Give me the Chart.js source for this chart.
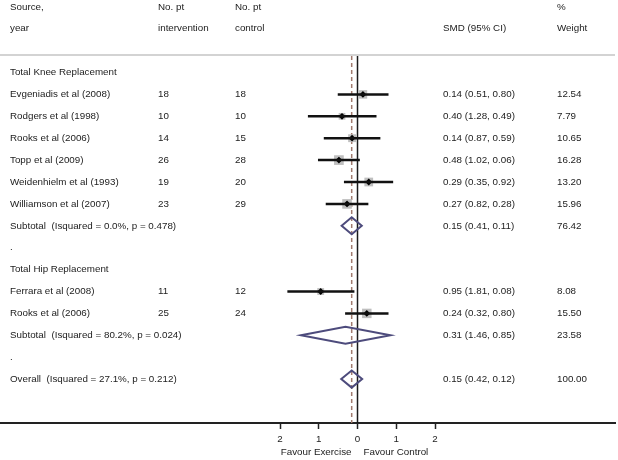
<!DOCTYPE html>
<html>
<head>
<meta charset="utf-8">
<script src="https://cdn.jsdelivr.net/npm/chart.js@4"></script>
<style>
  html, body { margin: 0; padding: 0; background: #fff; overflow: hidden; }
  #wrap { width: 618px; height: 460px; }
</style>
</head>
<body>
<div id="wrap"><canvas id="forest" width="618" height="460"></canvas></div>
<script>
// rows of the forest plot, top to bottom
const rowLabels = [
  'Total Knee Replacement',
  'Evgeniadis et al (2008)',
  'Rodgers et al (1998)',
  'Rooks et al (2006)',
  'Topp et al (2009)',
  'Weidenhielm et al (1993)',
  'Williamson et al (2007)',
  'Subtotal  (Isquared = 0.0%, p = 0.478)',
  '.',
  'Total Hip Replacement',
  'Ferrara et al (2008)',
  'Rooks et al (2006)',
  'Subtotal  (Isquared = 80.2%, p = 0.024)',
  '.',
  'Overall  (Isquared = 27.1%, p = 0.212)'
];
const nIntervention = ['', '18', '10', '14', '26', '19', '23', '', '', '', '11', '25', '', '', ''];
const nControl      = ['', '18', '10', '15', '28', '20', '29', '', '', '', '12', '24', '', '', ''];
const smd    = [null, 0.14, -0.40, -0.14, -0.48, 0.29, -0.27, -0.15, null, null, -0.95, 0.24, -0.31, null, -0.15];
const ciLow  = [null, -0.51, -1.28, -0.87, -1.02, -0.35, -0.82, -0.41, null, null, -1.81, -0.32, -1.46, null, -0.42];
const ciHigh = [null, 0.80, 0.49, 0.59, 0.06, 0.92, 0.28, 0.11, null, null, -0.08, 0.80, 0.85, null, 0.12];
const weights = [null, 12.54, 7.79, 10.65, 16.28, 13.20, 15.96, 76.42, null, null, 8.08, 15.50, 23.58, null, 100.00];
const pooledRows = [7, 12, 14];
const overallRow = 14;
const xTicks = [-2, -1, 0, 1, 2];

const headerTop = ['Source,', 'No. pt', 'No. pt', '', '%'];
const headerBottom = ['year', 'intervention', 'control', 'SMD (95% CI)', 'Weight'];

const colors = {
  text: '#222',
  box: '#bfbfbf',
  ci: '#111',
  diamond: '#4d4b7c',
  nullLine: '#1a1a1a',
  overallLine: '#a07a6e',
  separator: '#c4c4c4'
};
const FONT = '"Liberation Sans", Arial, sans-serif';

// study rows only (pooled rows get a diamond)
const studyRows = smd.map((v, i) => i).filter(i => smd[i] !== null && !pooledRows.includes(i));

const boxData = studyRows.map(i => ({x: smd[i], y: i, w: weights[i]}));
const pointData = studyRows.map(i => ({x: smd[i], y: i}));

function fmt(v) {
  return Math.abs(v).toFixed(2);
}

const forestPlugin = {
  id: 'forest',
  beforeDatasetsDraw(chart) {
    const {ctx, chartArea: {left, right, bottom}, scales: {x, y}} = chart;
    const sepY = y.getPixelForValue(-0.8);
    const lineTop = y.getPixelForValue(-0.75);

    // header separator
    ctx.save();
    ctx.strokeStyle = colors.separator;
    ctx.lineWidth = 1.5;
    ctx.beginPath();
    ctx.moveTo(left, sepY);
    ctx.lineTo(right, sepY);
    ctx.stroke();

    // no-effect line
    ctx.strokeStyle = colors.nullLine;
    ctx.lineWidth = 1.5;
    ctx.beginPath();
    ctx.moveTo(x.getPixelForValue(0), lineTop);
    ctx.lineTo(x.getPixelForValue(0), bottom);
    ctx.stroke();

    // overall effect line
    ctx.strokeStyle = colors.overallLine;
    ctx.setLineDash([4, 3]);
    ctx.beginPath();
    ctx.moveTo(x.getPixelForValue(smd[overallRow]), lineTop);
    ctx.lineTo(x.getPixelForValue(smd[overallRow]), bottom);
    ctx.stroke();
    ctx.restore();
  },
  afterDatasetsDraw(chart) {
    const {ctx, scales: {x, y}} = chart;
    ctx.save();

    // confidence intervals
    ctx.strokeStyle = colors.ci;
    ctx.lineWidth = 2.5;
    studyRows.forEach(i => {
      const yPos = y.getPixelForValue(i);
      ctx.beginPath();
      ctx.moveTo(x.getPixelForValue(ciLow[i]), yPos);
      ctx.lineTo(x.getPixelForValue(ciHigh[i]), yPos);
      ctx.stroke();
    });

    // pooled diamonds
    ctx.strokeStyle = colors.diamond;
    ctx.lineWidth = 2;
    ctx.lineJoin = 'miter';
    pooledRows.forEach(i => {
      const yPos = y.getPixelForValue(i);
      const h = 8.5;
      ctx.beginPath();
      ctx.moveTo(x.getPixelForValue(ciLow[i]), yPos);
      ctx.lineTo(x.getPixelForValue(smd[i]), yPos - h);
      ctx.lineTo(x.getPixelForValue(ciHigh[i]), yPos);
      ctx.lineTo(x.getPixelForValue(smd[i]), yPos + h);
      ctx.closePath();
      ctx.stroke();
    });
    ctx.restore();
  },
  afterDraw(chart) {
    const {ctx, scales: {x, y}} = chart;
    const cols = [10, 158, 235, 443, 557];

    ctx.save();
    ctx.fillStyle = colors.text;
    ctx.font = '9.8px ' + FONT;
    ctx.textAlign = 'left';
    ctx.textBaseline = 'middle';

    headerTop.forEach((t, c) => ctx.fillText(t, cols[c], y.getPixelForValue(-3)));
    headerBottom.forEach((t, c) => ctx.fillText(t, cols[c], y.getPixelForValue(-2)));

    rowLabels.forEach((label, i) => {
      const yPos = y.getPixelForValue(i);
      ctx.fillText(label, cols[0], yPos);
      ctx.fillText(nIntervention[i], cols[1], yPos);
      ctx.fillText(nControl[i], cols[2], yPos);
      if (smd[i] !== null) {
        ctx.fillText(fmt(smd[i]) + ' (' + fmt(ciLow[i]) + ', ' + fmt(ciHigh[i]) + ')', cols[3], yPos);
        ctx.fillText(weights[i].toFixed(2), cols[4], yPos);
      }
    });

    // axis captions either side of zero
    const zero = x.getPixelForValue(0);
    const capY = 452;
    ctx.textAlign = 'right';
    ctx.fillText('Favour Exercise', zero - 6, capY);
    ctx.textAlign = 'left';
    ctx.fillText('Favour Control', zero + 6, capY);
    ctx.restore();
  }
};

new Chart(document.getElementById('forest'), {
  type: 'scatter',
  data: {
    datasets: [{
      label: 'estimate',
      data: pointData,
      pointStyle: 'rectRot',
      pointRadius: 3.4,
      backgroundColor: '#000',
      borderColor: '#000',
      borderWidth: 0,
      order: 0
    }, {
      label: 'weight',
      data: boxData,
      pointStyle: 'rect',
      pointRadius: ctx => Math.sqrt(ctx.raw ? ctx.raw.w : 1) * 1.7,
      backgroundColor: colors.box,
      borderWidth: 0,
      order: 1
    }]
  },
  options: {
    responsive: false,
    animation: false,
    events: [],
    layout: {autoPadding: false, padding: {left: 0, right: 3, top: 0, bottom: 0}},
    plugins: {
      legend: {display: false},
      title: {display: false},
      tooltip: {enabled: false}
    },
    scales: {
      x: {
        type: 'linear',
        min: -9.226,
        max: 6.645,
        afterBuildTicks: scale => {
          scale.ticks = xTicks.map(v => ({value: v}));
        },
        afterFit: scale => {
          scale.height = 37;
        },
        ticks: {
          color: colors.text,
          font: {family: FONT, size: 9.8},
          padding: 4,
          maxRotation: 0,
          callback: v => String(Math.abs(v))
        },
        grid: {
          display: true,
          drawOnChartArea: false,
          drawTicks: true,
          tickLength: 6,
          tickWidth: 1.5,
          color: colors.text
        },
        border: {display: true, color: colors.text, width: 2}
      },
      y: {
        type: 'linear',
        display: false,
        reverse: true,
        min: -3.311,
        max: 16.005
      }
    }
  },
  plugins: [forestPlugin]
});
</script>
</body>
</html>
